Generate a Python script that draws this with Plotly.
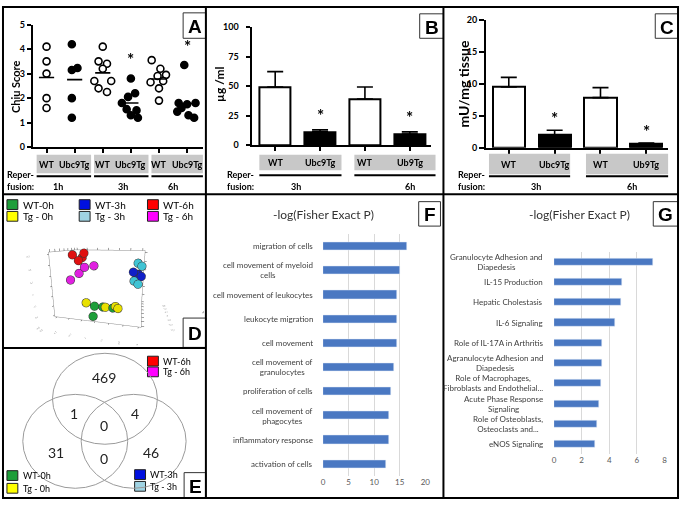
import plotly.graph_objects as go
import numpy as np

W, H = 685, 506
def px(x): return x / W
def py(y): return 1 - y / H

FONT = "Lato"
LFONT = "Liberation Sans"

# ---------------- Panel A data (Chiu score) ----------------
a_genotypes = ["WT", "Ubc9Tg", "WT", "Ubc9Tg", "WT", "Ubc9Tg"]
a_times = ["1h", "3h", "6h"]
a_wt_1h = [4.1, 3.5, 3.0, 2.0, 1.6]
a_tg_1h = [4.2, 3.15, 3.23, 2.0, 1.2]
a_wt_3h = [4.1, 3.5, 3.4, 3.2, 2.7, 2.7, 2.4, 2.25]
a_tg_3h = [2.8, 2.2, 2.05, 1.8, 1.55, 1.5, 1.3, 1.2]
a_wt_6h = [3.55, 3.2, 2.95, 2.9, 2.65, 2.7, 2.4, 1.9]
a_tg_6h = [3.35, 1.8, 1.75, 1.8, 1.6, 1.45, 1.3, 1.2]
a_sig = [False, False, False, True, False, True]
# horizontal spread of dots inside each column (layout only)
a_spread = [
    [0, 0, 0, 0, 0],
    [-0.1, -0.1, 0.1, -0.1, -0.1],
    [0, -0.15, 0.15, 0, -0.3, 0.3, -0.15, 0.15],
    [0, 0.15, -0.1, -0.32, -0.15, 0.2, 0, 0.25],
    [-0.26, 0.05, 0.25, -0.05, -0.3, 0.15, 0, 0],
    [-0.1, -0.3, 0, 0.3, -0.2, -0.35, 0.05, 0.25],
]

# ---------------- Panel B data (ug/ml) ----------------
b_labels = ["WT", "Ubc9Tg", "WT", "Ub9Tg"]
b_times = ["3h", "6h"]
b_vals = [49.2, 11.3, 39.2, 9.4]
b_err = [13.2, 1.7, 10.2, 1.9]
b_sig = [False, True, False, True]

# ---------------- Panel C data (mU/mg tissue) ----------------
c_labels = ["WT", "Ubc9Tg", "WT", "Ub9Tg"]
c_times = ["3h", "6h"]
c_vals = [9.5, 1.98, 7.84, 0.6]
c_err = [1.5, 0.77, 1.56, 0.15]
c_sig = [False, True, False, True]

# ---------------- Panel D data (PCA) ----------------
d_groups = ["WT-0h", "Tg - 0h", "WT-3h", "Tg - 3h", "WT-6h", "Tg - 6h"]
d_colors = ["#1e9e3a", "#ffff00", "#0010e0", "#9fd3e3", "#ff0000", "#ff00ff"]
d_marker = ["#1e9e3a", "#e8e000", "#1020c8", "#40c4d4", "#e01010", "#e020e0"]
d_pc_x = [[-0.05, 0.02, 0.1, -0.03], [-0.12, 0.04, 0.12, 0.14],
          [0.24, 0.28, 0.26, 0.3], [0.27, 0.3, 0.25, 0.28],
          [-0.25, -0.15, -0.2, -0.18], [-0.15, -0.07, -0.2, -0.28]]
d_pc_y = [[-0.1, -0.1, -0.1, -0.25], [-0.1, -0.1, -0.1, -0.1],
          [0.0, 0.05, 0.02, 0.0], [0.1, 0.1, -0.05, -0.05],
          [0.0, 0.0, 0.0, 0.05], [0.0, 0.0, 0.0, 0.0]]
d_pc_z = [[-0.25, -0.25, -0.25, -0.3], [-0.22, -0.25, -0.23, -0.25],
          [0.12, 0.09, 0.1, 0.08], [0.2, 0.17, 0.04, 0.01],
          [0.28, 0.3, 0.22, 0.25], [0.15, 0.17, 0.08, 0.0]]

# ---------------- Panel E data (Venn) ----------------
e_regions = ["6h only", "0h&6h", "3h&6h", "all", "0h only", "0h&3h", "3h only"]
e_counts = [469, 1, 4, 0, 31, 0, 46]

# ---------------- Panel F data ----------------
f_terms = ["migration of cells", "cell movement of myeloid<br>cells",
           "cell movement of leukocytes", "leukocyte migration", "cell movement",
           "cell movement of<br>granulocytes", "proliferation of cells",
           "cell movement of<br>phagocytes", "inflammatory response",
           "activation of cells"]
f_vals = [16.45, 15.0, 14.5, 14.5, 14.45, 13.9, 13.2, 12.9, 12.85, 12.3]

# ---------------- Panel G data ----------------
g_terms = ["Granulocyte Adhesion and<br>Diapedesis", "IL-15 Production",
           "Hepatic Cholestasis", "IL-6 Signaling", "Role of IL-17A in Arthritis",
           "Agranulocyte Adhesion and<br>Diapedesis",
           "Role of Macrophages,<br>Fibroblasts and Endothelial...",
           "Acute Phase Response<br>Signaling",
           "Role of Osteoblasts,<br>Osteoclasts and...", "eNOS Signaling"]
g_vals = [7.14, 4.94, 4.85, 4.42, 3.51, 3.44, 3.39, 3.29, 3.15, 3.0]

fig = go.Figure()
shapes = []
ann = []

def txt(x, y, s, size=9, bold=True, xanchor="center", yanchor="middle",
        color="black", family=FONT, xref="paper", yref="paper", **kw):
    ann.append(dict(x=x, y=y, xref=xref, yref=yref, text=s, showarrow=False,
                    xanchor=xanchor, yanchor=yanchor,
                    font=dict(family=family, size=size, color=color,
                              weight="bold" if bold else "normal"), **kw))

def rect(x0, y0, x1, y1, fill="rgba(0,0,0,0)", line="black", lw=1):
    shapes.append(dict(type="rect", xref="paper", yref="paper",
                       x0=px(x0), x1=px(x1), y0=py(y1), y1=py(y0),
                       fillcolor=fill, line=dict(color=line, width=lw), layer="above"))

def hline(x0, x1, y, lw=2, color="black"):
    shapes.append(dict(type="line", xref="paper", yref="paper",
                       x0=px(x0), x1=px(x1), y0=py(y), y1=py(y),
                       line=dict(color=color, width=lw), layer="above"))

def vline(x, y0, y1, lw=2, color="black"):
    shapes.append(dict(type="line", xref="paper", yref="paper",
                       x0=px(x), x1=px(x), y0=py(y0), y1=py(y1),
                       line=dict(color=color, width=lw), layer="above"))

# ---------------- Panel A traces ----------------
a_data = [a_wt_1h, a_tg_1h, a_wt_3h, a_tg_3h, a_wt_6h, a_tg_6h]
for i, vals in enumerate(a_data):
    pos = i + 1
    wt = a_genotypes[i] == "WT"
    fig.add_trace(go.Scatter(
        x=[pos + s for s in a_spread[i]], y=vals, mode="markers",
        marker=dict(size=7, color="white" if wt else "black",
                    line=dict(color="black", width=1.6)),
        xaxis="x", yaxis="y", showlegend=False, hoverinfo="skip"))
    m = float(np.mean(vals))
    fig.add_trace(go.Scatter(x=[pos - 0.27, pos + 0.27], y=[m, m], mode="lines",
                             line=dict(color="black", width=1.6),
                             xaxis="x", yaxis="y", showlegend=False, hoverinfo="skip"))
    if a_sig[i]:
        txt(pos, max(vals), "*", size=17, xref="x", yref="y", yshift=19)

# ---------------- Panel B / C traces ----------------
def bar_panel(vals, errs, labels, sig, xa, ya, shift):
    colors = ["white" if l == "WT" else "black" for l in labels]
    pos = list(range(1, len(vals) + 1))
    fig.add_trace(go.Bar(
        x=pos, y=vals, width=0.7, marker=dict(color=colors, line=dict(color="black", width=2)),
        error_y=dict(type="data", array=errs, arrayminus=[0] * len(errs), symmetric=False,
                     color="black", thickness=1.6, width=8),
        xaxis=xa, yaxis=ya, showlegend=False, hoverinfo="skip"))
    for p, v, e, s in zip(pos, vals, errs, sig):
        if s:
            txt(p, v + e, "*", size=17, xref=xa, yref=ya, yshift=shift)

bar_panel(b_vals, b_err, b_labels, b_sig, "x2", "y2", 14)
bar_panel(c_vals, c_err, c_labels, c_sig, "x3", "y3", 12)

# ---------------- Panel D (3D PCA) ----------------
for g, mc, xs, ys, zs in zip(d_groups, d_marker, d_pc_x, d_pc_y, d_pc_z):
    fig.add_trace(go.Scatter3d(x=xs, y=ys, z=zs, mode="markers", name=g,
                               marker=dict(size=5, color=mc, line=dict(color="#333", width=1)),
                               showlegend=False, hoverinfo="skip", scene="scene"))

# ---------------- Panel F / G bars ----------------
fig.add_trace(go.Bar(y=f_terms, x=f_vals, orientation="h", width=0.34,
                     marker=dict(color="#4a78c2"), xaxis="x5", yaxis="y5",
                     showlegend=False, hoverinfo="skip"))
fig.add_trace(go.Bar(y=g_terms, x=g_vals, orientation="h", width=0.35,
                     marker=dict(color="#4a78c2"), xaxis="x6", yaxis="y6",
                     showlegend=False, hoverinfo="skip"))
for t in f_terms:
    txt(px(316), t, t, size=8, bold=False, xanchor="right", yref="y5",
        color="#404040", align="center")
for t in g_terms:
    txt(px(549), t, t, size=8, bold=False, xanchor="right", yref="y6",
        color="#404040", align="center")

# ---------------- Axes ----------------
axA = dict(showline=True, linecolor="black", linewidth=1.6, ticks="outside",
           ticklen=4, tickwidth=1.6, tickcolor="black", showgrid=False, zeroline=False,
           tickfont=dict(family=FONT, size=9, color="black", weight="bold"))
layout_axes = dict(
    xaxis=dict(axA, domain=[px(31), px(203)], range=[0.507, 6.563], anchor="y",
               tickvals=[1, 2, 3, 4, 5, 6], showticklabels=False),
    yaxis=dict(axA, domain=[py(144.3), py(19)], range=[0, 5], dtick=1, anchor="x"),
    xaxis2=dict(axA, domain=[px(253), px(433)], range=[0.4926, 4.463], anchor="y2",
                tickvals=[1, 2, 3, 4], showticklabels=False, linewidth=2),
    yaxis2=dict(axA, domain=[py(142.3), py(21.7)], range=[0, 100], dtick=25, anchor="x2",
                linewidth=2, ticklabelstandoff=6),
    xaxis3=dict(axA, domain=[px(489), px(673)], range=[0.503, 4.475], anchor="y3",
                tickvals=[1, 2, 3, 4], showticklabels=False, linewidth=2),
    yaxis3=dict(axA, domain=[py(145), py(14)], range=[0, 20], dtick=5, anchor="x3",
                linewidth=2, ticklen=5),
    xaxis5=dict(domain=[px(324.3), px(427.7)], range=[0, 20], dtick=5, anchor="y5",
                showgrid=True, gridcolor="#d9d9d9", gridwidth=1, zeroline=False,
                showline=False, tickfont=dict(family=FONT, size=8, color="#595959")),
    yaxis5=dict(domain=[py(480.4), py(233.3)], anchor="x5", range=[9.5, -0.5],
                showticklabels=False, showgrid=False, zeroline=False, type="category"),
    xaxis6=dict(domain=[px(557.7), px(669.3)], range=[0, 8], dtick=2, anchor="y6",
                showgrid=True, gridcolor="#d9d9d9", gridwidth=1, zeroline=False,
                showline=False, tickfont=dict(family=FONT, size=8, color="#595959")),
    yaxis6=dict(domain=[py(458.4), py(251)], anchor="x6", range=[9.5, -0.5],
                showticklabels=False, showgrid=False, zeroline=False, type="category"),
)

ax3d = dict(showbackground=False, showgrid=False, zeroline=False, showline=True,
            linecolor="#8c8c8c", linewidth=1, mirror="all", ticks="outside",
            ticklen=2, tickfont=dict(size=5, color="#666"), range=[-0.32, 0.32],
            showspikes=False, nticks=7)
scene = dict(domain=dict(x=[px(4), px(204)], y=[py(348), py(222)]),
             xaxis=dict(ax3d, title=dict(text="PC3 (1%)", font=dict(size=5, color="#666"))),
             yaxis=dict(ax3d, title=dict(text="PC1 (86%)", font=dict(size=5, color="#666"))),
             zaxis=dict(ax3d, title=dict(text="PC2 (11%)", font=dict(size=5, color="#666"))),
             aspectmode="manual", aspectratio=dict(x=1.2, y=0.8, z=0.9), bgcolor="white",
             camera=dict(eye=dict(x=0.55, y=-2.1, z=0.55), center=dict(x=0.04, y=0, z=-0.04)))

# ---------------- Panel A/B/C decorations ----------------
txt(px(13), py(82), "Chiu Score", size=11, textangle=-90)
txt(px(220), py(80), "\u00b5g /ml", size=12, textangle=-90)
txt(px(466), py(80), "mU/mg tissue", size=14, textangle=-90)

# gray label boxes + underlines
for (x0, x1) in [(35, 90), (93, 148), (151, 203)]:
    rect(x0, 152, x1, 171, fill="#c8c8c8", line="#c8c8c8", lw=0)
    hline(x0, x1, 174)
for (x0, x1) in [(260, 343), (356, 438)]:
    rect(x0, 152, x1, 168, fill="#c8c8c8", line="#c8c8c8", lw=0)
    hline(x0, x1, 173)
for (x0, x1) in [(492, 574), (590, 673)]:
    rect(x0, 151, x1, 172, fill="#c8c8c8", line="#c8c8c8", lw=0)
    hline(x0, x1, 174)

for i, g in enumerate(a_genotypes):
    txt(i + 1, py(162), g, size=9, xref="x")
for i, g in enumerate(b_labels):
    txt(i + 1, py(160), g, size=9, xref="x2")
for i, g in enumerate(c_labels):
    txt(i + 1, py(162), g, size=9, xref="x3")

for xl in [3, 225, 459]:
    txt(px(xl), py(172), "Reper-", size=9, xanchor="left")
    txt(px(xl), py(184), "fusion:", size=9, xanchor="left")
for xc, t in zip([57, 122, 173], a_times):
    txt(px(xc), py(184), t, size=9)
for xc, t in zip([297, 412], b_times):
    txt(px(xc), py(184), t, size=9)
for xc, t in zip([540, 637], c_times):
    txt(px(xc), py(184), t, size=9)

# ---------------- legends D / E ----------------
def legend_item(x, y, color, label, w=11, h=10, size=10):
    rect(x, y, x + w, y + h, fill=color, line="#222", lw=1)
    txt(px(x + w + 3), py(y + h / 2), label, size=size, bold=False, xanchor="left")

legend_item(5, 198, d_colors[0], d_groups[0])
legend_item(5, 210, d_colors[1], d_groups[1])
legend_item(78, 198, d_colors[2], d_groups[2])
legend_item(78, 210, d_colors[3], d_groups[3])
legend_item(147, 198, d_colors[4], d_groups[4])
legend_item(147, 210, d_colors[5], d_groups[5])

legend_item(147, 358, d_colors[4], d_groups[4], size=9)
legend_item(147, 369, d_colors[5], d_groups[5], size=9)
legend_item(5, 475, d_colors[0], d_groups[0], size=9)
legend_item(5, 488, d_colors[1], d_groups[1], size=9)
legend_item(134, 474, d_colors[2], d_groups[2], size=9)
legend_item(134, 486, d_colors[3], d_groups[3], size=9)

# ---------------- Venn ----------------
for (x0, y0, x1, y1) in [(51, 355, 157, 448), (21, 397, 127, 493), (80, 397, 186, 493)]:
    shapes.append(dict(type="circle", xref="paper", yref="paper",
                       x0=px(x0), x1=px(x1), y0=py(y1), y1=py(y0),
                       line=dict(color="#9a9a9a", width=1)))
e_pos = [(103, 380), (73, 417), (134, 417), (103, 429), (55, 456), (103, 463), (151, 456)]
for (xc, yc), c in zip(e_pos, e_counts):
    txt(px(xc), py(yc), str(c), size=14, bold=False, color="#222")

# ---------------- F / G titles ----------------
txt(px(325), py(213), "-log(Fisher Exact P)", size=12, bold=False, color="#333")
txt(px(583), py(213), "-log(Fisher Exact P)", size=12, bold=False, color="#333")

# ---------------- panel letters ----------------
for L, (x0, y0, x1, y1) in zip("ABCDEFG", [(183, 7, 206, 33), (422, 8, 446, 33),
                                          (660, 8, 683, 33), (183, 319, 206, 349),
                                          (184, 477, 206, 503), (421, 200, 443, 225),
                                          (658, 200, 683, 225)]):
    rect(x0, y0, x1, y1, fill="white", line="#333", lw=1)
    txt(px((x0 + x1) / 2), py((y0 + y1) / 2 + 1), L, size=19, family=LFONT)

# ---------------- frame lines ----------------
rect(1, 1, 683, 503, lw=2)
vline(206, 1, 503)
vline(446, 1, 503)
hline(1, 683, 192.5)
hline(1, 206, 349.5)

fig.update_layout(width=W, height=H, margin=dict(l=0, r=0, t=0, b=0),
                  paper_bgcolor="white", plot_bgcolor="rgba(0,0,0,0)",
                  shapes=shapes, annotations=ann, scene=scene,
                  bargap=0, showlegend=False, **layout_axes)
fig.write_html("out.html", config={"displayModeBar": False},
               post_script="document.body.style.margin='0px';document.body.style.overflow='hidden';")
